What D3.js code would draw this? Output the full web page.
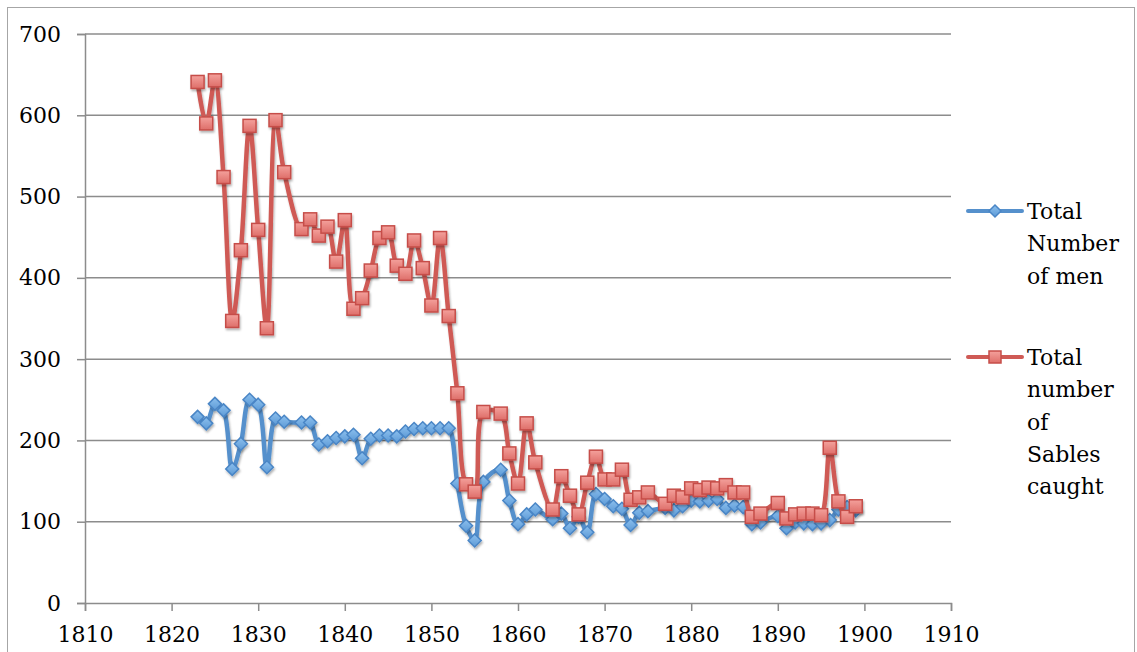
<!DOCTYPE html>
<html><head><meta charset="utf-8">
<script src="https://cdn.jsdelivr.net/npm/d3@7"></script>
<style>
html,body{margin:0;padding:0;background:#fff;}
svg{display:block;}
text{font-family:"DejaVu Serif","Liberation Serif",serif;fill:#000;}
</style></head>
<body>
<svg id="chart" width="1137" height="652"></svg>
<script>
const years = [1823,1824,1825,1826,1827,1828,1829,1830,1831,1832,1833,
  1835,1836,1837,1838,1839,1840,1841,1842,1843,1844,1845,1846,1847,1848,1849,1850,1851,1852,1853,1854,1855,1856,
  1858,1859,1860,1861,1862,
  1864,1865,1866,1867,1868,1869,1870,1871,1872,1873,1874,1875,
  1877,1878,1879,1880,1881,1882,1883,1884,1885,1886,1887,1888,
  1890,1891,1892,1893,1894,1895,1896,1897,1898,1899];
const totalMen = [229,221,245,237,165,196,250,244,167,227,223,
  222,222,195,199,203,205,207,178,202,206,206,205,211,214,215,215,215,215,147,95,77,149,
  164,126,97,109,115,
  103,110,92,106,87,134,128,119,116,96,111,113,
  117,114,119,126,125,126,128,117,120,118,97,99,
  107,92,99,98,97,98,102,115,118,114];
const sablesCaught = [641,590,643,524,347,434,587,459,338,594,530,
  460,472,452,463,420,471,362,375,409,449,456,415,405,446,412,366,449,353,258,146,137,235,
  233,184,147,221,173,
  115,156,132,109,148,180,152,152,164,127,130,136,
  122,132,130,141,139,142,141,145,136,136,106,110,
  123,104,109,110,110,108,191,125,106,119];
const xTicks = [1810,1820,1830,1840,1850,1860,1870,1880,1890,1900,1910];
const yTicks = [0,100,200,300,400,500,600,700];
const seriesNames = [["Total","Number","of men"],["Total","number","of","Sables","caught"]];

const svg = d3.select("#chart");
const x = d3.scaleLinear().domain([1810,1910]).range([85,951]);
const y = d3.scaleLinear().domain([0,700]).range([603,34]);

// outer border
svg.append("rect").attr("x",7.5).attr("y",7.5).attr("width",1127).attr("height",660)
  .attr("fill","none").attr("stroke","#a6a6a6").attr("stroke-width",1);

const defs = svg.append("defs");
const f = defs.append("filter").attr("id","sh").attr("x","-50%").attr("y","-50%").attr("width","200%").attr("height","200%");
f.append("feDropShadow").attr("dx",1).attr("dy",2).attr("stdDeviation",1.2).attr("flood-color","#000").attr("flood-opacity",0.3);
const gr = defs.append("linearGradient").attr("id","gr").attr("x1",0).attr("y1",0).attr("x2",0).attr("y2",1);
gr.append("stop").attr("offset","0").attr("stop-color","#f4a19c");
gr.append("stop").attr("offset","1").attr("stop-color","#de6e69");
const gb = defs.append("linearGradient").attr("id","gb").attr("x1",0).attr("y1",0).attr("x2",0).attr("y2",1);
gb.append("stop").attr("offset","0").attr("stop-color","#8cc0ee");
gb.append("stop").attr("offset","1").attr("stop-color","#5d9ad6");

// gridlines
svg.append("g").selectAll("line").data(yTicks.filter(d=>d>0)).join("line")
  .attr("x1",85).attr("x2",951).attr("y1",d=>y(d)).attr("y2",d=>y(d))
  .attr("stroke","#8c8c8c").attr("stroke-width",1.5);

// y axis
const yAxis = svg.append("g").attr("transform","translate(85,0)")
  .call(d3.axisLeft(y).tickValues(yTicks).tickSize(8).tickPadding(16).tickFormat(d3.format("d")));
yAxis.select(".domain").attr("stroke","#8c8c8c").attr("stroke-width",1.5);
yAxis.selectAll(".tick line").attr("stroke","#8c8c8c").attr("stroke-width",1.5);
yAxis.selectAll("text").style("font-family",'"DejaVu Serif",serif').style("font-size","22px").attr("fill","#000");

// x axis
const xAxis = svg.append("g").attr("transform","translate(0,603)")
  .call(d3.axisBottom(x).tickValues(xTicks).tickSize(8).tickPadding(15).tickFormat(d3.format("d")));
xAxis.select(".domain").attr("stroke","#8c8c8c").attr("stroke-width",1.5);
xAxis.selectAll(".tick line").attr("stroke","#8c8c8c").attr("stroke-width",1.5);
xAxis.selectAll("text").style("font-family",'"DejaVu Serif",serif').style("font-size","22px").attr("fill","#000");

const line = d3.line().x(d=>x(d[0])).y(d=>y(d[1])).curve(d3.curveCatmullRom.alpha(0.5));
const blueData = years.map((yr,i)=>[yr,totalMen[i]]);
const redData = years.map((yr,i)=>[yr,sablesCaught[i]]);

const blueLine = "#5590cc", redLine = "#cf5a55";

function drawSeries(data,color,shape,fill,stroke){
  const g = svg.append("g");
  g.append("path").datum(data).attr("d",line).attr("fill","none")
    .attr("stroke",color).attr("stroke-width",4.5).attr("stroke-linejoin","round").attr("filter","url(#sh)");
  const m = g.append("g").attr("filter","url(#sh)");
  if(shape==="square"){
    m.selectAll("rect").data(data).join("rect")
      .attr("x",d=>x(d[0])-6.5).attr("y",d=>y(d[1])-6.5).attr("width",13).attr("height",13)
      .attr("fill",fill).attr("stroke",stroke).attr("stroke-width",1.5);
  } else {
    m.selectAll("path").data(data).join("path")
      .attr("d",d=>{const cx=x(d[0]),cy=y(d[1]),r=6.5;return `M${cx},${cy-r}L${cx+r},${cy}L${cx},${cy+r}L${cx-r},${cy}Z`;})
      .attr("fill",fill).attr("stroke",stroke).attr("stroke-width",1.5);
  }
}
drawSeries(blueData,blueLine,"diamond","url(#gb)","#4a86c6");
drawSeries(redData,redLine,"square","url(#gr)","#c64e49");

// legend
const leg = svg.append("g");
const legItems = [{y:211,color:blueLine,shape:"diamond",fill:"url(#gb)",stroke:"#4a86c6",lines:seriesNames[0]},
                  {y:357,color:redLine,shape:"square",fill:"url(#gr)",stroke:"#c64e49",lines:seriesNames[1]}];
legItems.forEach(it=>{
  leg.append("line").attr("x1",968).attr("x2",1022).attr("y1",it.y).attr("y2",it.y)
    .attr("stroke",it.color).attr("stroke-width",4).attr("stroke-linecap","round");
  if(it.shape==="square"){
    leg.append("rect").attr("x",989).attr("y",it.y-6).attr("width",12).attr("height",12)
      .attr("fill",it.fill).attr("stroke",it.stroke).attr("stroke-width",1.5);
  } else {
    const cx=995,cy=it.y,r=6;
    leg.append("path").attr("d",`M${cx},${cy-r}L${cx+r},${cy}L${cx},${cy+r}L${cx-r},${cy}Z`)
      .attr("fill",it.fill).attr("stroke",it.stroke).attr("stroke-width",1.5);
  }
  it.lines.forEach((t,i)=>{
    leg.append("text").attr("x",1027).attr("y",it.y+8+i*32.3).style("font-size","22px").text(t);
  });
});
</script>
</body></html>
